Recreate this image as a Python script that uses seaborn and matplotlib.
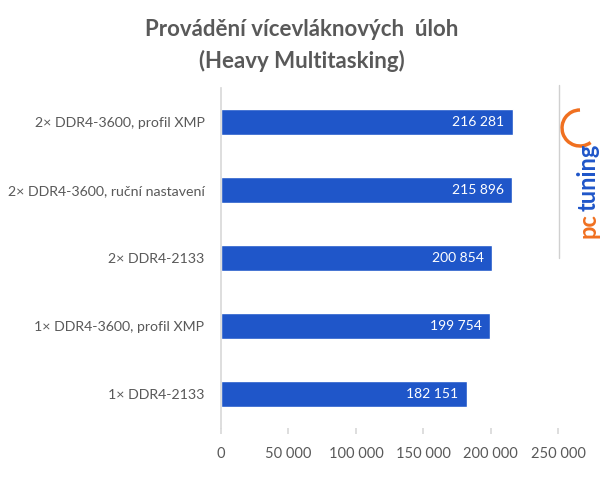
import matplotlib
matplotlib.use("Agg")
import matplotlib.pyplot as plt
import matplotlib.patches as mpatches
import seaborn as sns
import pandas as pd

categories = ["2× DDR4-3600, profil XMP", "2× DDR4-3600, ruční nastavení",
              "2× DDR4-2133", "1× DDR4-3600, profil XMP", "1× DDR4-2133"]
values = [216281, 215896, 200854, 199754, 182151]
xticks = [0, 50000, 100000, 150000, 200000, 250000]

def fmt(v):
    return f"{v:,}".replace(",", " ")

sns.set_theme(style="white")
plt.rcParams['font.family'] = ['Lato', 'DejaVu Sans']

df = pd.DataFrame({"cat": categories, "val": values})
fig = plt.figure(figsize=(6.04, 4.78), dpi=100)
ax = fig.add_axes([0.366, 0.105, 0.558, 0.711])
sns.barplot(data=df, x="val", y="cat", color="#1F56C9", width=0.38, ax=ax, saturation=1)

for i, v in enumerate(values):
    ax.text(v - 6000, i, fmt(v), color="white", ha="right", va="center", fontsize=10)

ax.set_xlim(0, 250000)
ax.set_xticks(xticks)
ax.set_xticklabels([fmt(t) for t in xticks], color="#595959", fontsize=10.5)
ax.tick_params(axis="y", labelsize=10.2, colors="#595959", length=0, pad=12)
ax.tick_params(axis="x", length=4, color="#D9D9D9", pad=10, bottom=True, direction="out")
ax.set_xlabel("")
ax.set_ylabel("")
for s in ["top", "right", "bottom"]:
    ax.spines[s].set_visible(False)
ax.spines["left"].set_color("#D9D9D9")

fig.text(0.5, 1-30/478, "Provádění vícevláknových  úloh", ha="center", va="center",
         fontsize=16, fontweight="bold", color="#595959")
fig.text(0.5, 1-61/478, "(Heavy Multitasking)", ha="center", va="center",
         fontsize=16, fontweight="bold", color="#595959")

# logo-like mark
fig.add_artist(plt.Line2D([559/604, 559/604], [1-85/478, 1-258/478], color="#D0D0D0", lw=1))
arc = mpatches.Arc((580/604, 1-128/478), 36/604, 36/478, theta1=90, theta2=300,
                   color="#F07020", lw=2.5, transform=fig.transFigure)
fig.add_artist(arc)
fig.text(588/604, 1-211/478, "tuning", rotation=90, ha="center", va="bottom",
         fontsize=17, fontweight="bold", color="#1F56C9")
fig.text(588/604, 1-213/478, "pc", rotation=90, ha="center", va="top",
         fontsize=17, fontweight="bold", color="#F07020")

fig.savefig("out.png", dpi=100)
